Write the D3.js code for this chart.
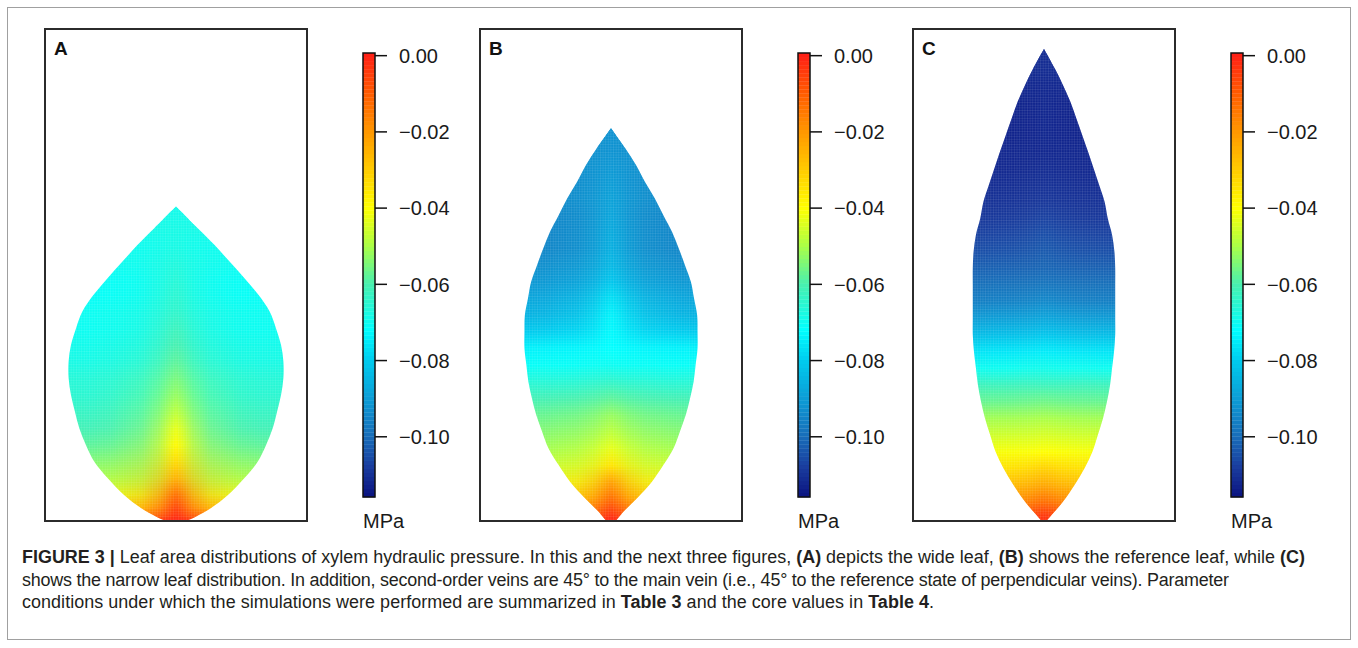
<!DOCTYPE html>
<html><head><meta charset="utf-8">
<script src="https://cdn.jsdelivr.net/npm/d3@7"></script>
<style>body{margin:0;background:#fff} svg{display:block}</style>
</head><body>
<svg id="chart" width="1358" height="648"></svg>
<script>
// ---------------- data ----------------
const panelLabels = ["A", "B", "C"];
const colorbarTicks = [0, -0.02, -0.04, -0.06, -0.08, -0.10];
const colorbarUnit = "MPa";
const pressureMin = -0.1158, pressureMax = 0.0007;
const cmapValues = [0.0007, -0.01, -0.02, -0.03, -0.04, -0.05, -0.06, -0.072, -0.08, -0.09, -0.10, -0.108, -0.1158];
const cmapColors = ["#ff1e16", "#ff5c00", "#ff9800", "#ffcc00", "#ffff00", "#aaff48", "#48f0b0", "#00ffff", "#00cbee", "#0c9cd6", "#186cb8", "#1a3c9e", "#0b1380"];

// leaf A (wide): distance from base (mm), half width (mm), pressure at midrib / margin (MPa)
const leafA_y = [0, 1.1, 3.3, 6.6, 10.9, 15.1, 19.3, 23.6, 27.8, 32.0, 36.3, 40.5, 44.7, 49.0, 53.2, 57.4, 61.7, 65.9, 70.1, 74.4, 79.9];
const leafA_halfWidth = [2.5, 5.0, 8.9, 13.2, 17.4, 20.8, 22.9, 24.6, 25.7, 26.7, 27.3, 27.3, 26.7, 25.4, 23.8, 21.0, 17.4, 13.6, 9.8, 5.5, 0];
const leafA_pMid = [0.000, -0.002, -0.006, -0.013, -0.025, -0.033, -0.039, -0.043, -0.048, -0.052, -0.055, -0.058, -0.060, -0.062, -0.064, -0.065, -0.066, -0.067, -0.068, -0.068, -0.069];
const leafA_pEdge = [-0.006, -0.018, -0.032, -0.043, -0.050, -0.054, -0.058, -0.061, -0.063, -0.065, -0.066, -0.068, -0.069, -0.070, -0.070, -0.071, -0.071, -0.070, -0.070, -0.069, -0.069];

// leaf B (reference)
const leafB_y = [0, 2.4, 5.8, 10.0, 14.2, 18.5, 22.7, 26.9, 31.2, 35.4, 39.6, 43.9, 48.1, 52.3, 56.6, 60.8, 65.0, 69.3, 73.5, 77.7, 82.0, 86.2, 90.5, 94.7, 99.8];
const leafB_halfWidth = [1.2, 3.2, 6.6, 10.4, 13.3, 15.9, 17.5, 19.0, 20.1, 21.0, 21.5, 22.0, 22.0, 21.9, 21.1, 20.3, 18.8, 17.2, 15.5, 13.3, 11.1, 8.6, 6.3, 3.6, 0];
const leafB_pMid = [0.000, -0.005, -0.013, -0.022, -0.035, -0.043, -0.048, -0.052, -0.058, -0.064, -0.070, -0.072, -0.073, -0.074, -0.077, -0.081, -0.084, -0.086, -0.087, -0.088, -0.089, -0.090, -0.091, -0.092, -0.092];
const leafB_pEdge = [-0.008, -0.022, -0.033, -0.042, -0.047, -0.051, -0.054, -0.057, -0.061, -0.066, -0.071, -0.074, -0.080, -0.085, -0.088, -0.091, -0.093, -0.095, -0.095, -0.095, -0.094, -0.094, -0.093, -0.093, -0.092];

// leaf C (narrow)
const leafC_y = [0, 1.5, 4.9, 9.2, 13.4, 17.6, 21.9, 26.1, 30.3, 34.6, 38.8, 43.0, 47.3, 51.5, 55.7, 60.0, 64.2, 68.4, 72.7, 76.9, 81.1, 85.4, 89.6, 93.8, 98.1, 102.3, 106.5, 110.8, 115.0, 119.9];
const leafC_halfWidth = [0.6, 1.9, 4.8, 7.8, 10.3, 12.3, 13.7, 15.0, 16.0, 16.8, 17.3, 17.8, 18.1, 18.1, 18.1, 18.1, 18.1, 17.9, 17.3, 16.2, 15.4, 14.0, 12.6, 11.2, 9.7, 8.2, 6.7, 4.8, 2.7, 0];
const leafC_pMid = [-0.002, -0.004, -0.013, -0.023, -0.031, -0.040, -0.045, -0.050, -0.056, -0.062, -0.069, -0.075, -0.081, -0.088, -0.094, -0.098, -0.101, -0.103, -0.105, -0.107, -0.109, -0.110, -0.111, -0.112, -0.112, -0.112, -0.112, -0.112, -0.111, -0.111];
const leafC_pEdge = [-0.006, -0.010, -0.020, -0.028, -0.035, -0.041, -0.046, -0.051, -0.057, -0.062, -0.070, -0.076, -0.083, -0.090, -0.096, -0.099, -0.102, -0.105, -0.107, -0.109, -0.110, -0.111, -0.112, -0.112, -0.113, -0.113, -0.113, -0.112, -0.111, -0.111];

const frameDomainX = [-33.3, 33.3];   // mm
const frameDomainY = [0, 125];        // mm

// ---------------- drawing ----------------
const svg = d3.select("#chart");
const defs = svg.append("defs");
const FONT = "'Liberation Sans', Arial, Helvetica, sans-serif";

svg.append("rect").attr("x", 7.5).attr("y", 7.5).attr("width", 1343).attr("height", 632)
  .attr("fill", "#fff").attr("stroke", "#a0a0a0").attr("stroke-width", 1);

const color = d3.scaleLinear().domain(cmapValues).range(cmapColors)
  .interpolate(d3.interpolateRgb).clamp(true);

const leaves = [
  {y: leafA_y, hw: leafA_halfWidth, mid: leafA_pMid, edge: leafA_pEdge},
  {y: leafB_y, hw: leafB_halfWidth, mid: leafB_pMid, edge: leafB_pEdge},
  {y: leafC_y, hw: leafC_halfWidth, mid: leafC_pMid, edge: leafC_pEdge}
];
const panelLeft = [45, 480, 913];
const panelTop = 29, panelW = 262, panelH = 492;

// grid texture pattern
const cell = 2.62;
const pat = defs.append("pattern").attr("id", "grid").attr("patternUnits", "userSpaceOnUse")
  .attr("width", cell).attr("height", cell);
pat.append("path").attr("d", `M0,0H${cell}M0,0V${cell}`).attr("stroke", "#fff")
  .attr("stroke-opacity", 0.3).attr("stroke-width", 0.5).attr("fill", "none");

const maskStops = [[0, 0], [0.12, 0.05], [0.3, 0.25], [0.4, 0.55], [0.46, 0.85], [0.5, 1],
                   [0.54, 0.85], [0.6, 0.55], [0.7, 0.25], [0.88, 0.05], [1, 0]];
const maskHalf = 85;

const cbScale = d3.scaleLinear().domain([pressureMin, pressureMax]).range([497, 53]);

leaves.forEach((leaf, i) => {
  const x0 = panelLeft[i];
  const xs = d3.scaleLinear().domain(frameDomainX).range([x0, x0 + panelW]);
  const ys = d3.scaleLinear().domain(frameDomainY).range([panelTop + panelH, panelTop]);
  const rows = leaf.y.map((y, k) => ({y, hw: leaf.hw[k], mid: leaf.mid[k], edge: leaf.edge[k]}));
  const top = d3.max(leaf.y);
  const g = svg.append("g");

  const area = d3.area().y(d => ys(d.y)).x0(d => xs(-d.hw)).x1(d => xs(d.hw))
    .curve(d3.curveCatmullRom.alpha(0.5));

  ["edge", "mid"].forEach(key => {
    const grad = defs.append("linearGradient").attr("id", `g${i}${key}`)
      .attr("gradientUnits", "userSpaceOnUse")
      .attr("x1", 0).attr("x2", 0).attr("y1", ys(0)).attr("y2", ys(top));
    grad.selectAll("stop").data(rows).join("stop")
      .attr("offset", d => d.y / top).attr("stop-color", d => color(d[key]));
  });

  const cx = xs(0);
  const mg = defs.append("linearGradient").attr("id", `mg${i}`).attr("gradientUnits", "userSpaceOnUse")
    .attr("x1", cx - maskHalf).attr("x2", cx + maskHalf).attr("y1", 0).attr("y2", 0);
  mg.selectAll("stop").data(maskStops).join("stop")
    .attr("offset", d => d[0]).attr("stop-color", "#fff").attr("stop-opacity", d => d[1]);
  const mask = defs.append("mask").attr("id", `mask${i}`).attr("maskUnits", "userSpaceOnUse")
    .attr("x", x0).attr("y", panelTop).attr("width", panelW).attr("height", panelH);
  mask.append("rect").attr("x", cx - maskHalf).attr("y", panelTop).attr("width", 2 * maskHalf)
    .attr("height", panelH).attr("fill", `url(#mg${i})`);

  g.append("path").datum(rows).attr("d", area).attr("fill", `url(#g${i}edge)`);
  g.append("path").datum(rows).attr("d", area).attr("fill", `url(#g${i}mid)`).attr("mask", `url(#mask${i})`);
  g.append("path").datum(rows).attr("d", area).attr("fill", "url(#grid)");

  g.append("rect").attr("x", x0).attr("y", panelTop).attr("width", panelW).attr("height", panelH)
    .attr("fill", "none").attr("stroke", "#2b2b2b").attr("stroke-width", 2);

  g.append("text").attr("x", x0 + 9).attr("y", panelTop + 26).text(panelLabels[i])
    .attr("font-family", FONT).attr("font-weight", "bold").attr("font-size", 19).attr("fill", "#111");

  // colour bar
  const cbX = x0 + 318, cbW = 12;
  const steps = d3.range(0, 110);
  const stepH = (cbScale.range()[0] - cbScale.range()[1]) / steps.length;
  const stepVal = d3.scaleLinear().domain([0, steps.length]).range([pressureMin, pressureMax]);
  g.append("g").selectAll("rect").data(steps).join("rect")
    .attr("x", cbX).attr("width", cbW)
    .attr("y", d => cbScale(stepVal(d + 1)))
    .attr("height", stepH + 0.3)
    .attr("fill", d => color(stepVal(d + 0.5)));
  g.append("rect").attr("x", cbX).attr("y", cbScale.range()[1]).attr("width", cbW)
    .attr("height", cbScale.range()[0] - cbScale.range()[1])
    .attr("fill", "none").attr("stroke", "#111").attr("stroke-width", 1.5);
  const tk = g.append("g").selectAll("g").data(colorbarTicks).join("g")
    .attr("transform", d => `translate(0,${cbScale(d)})`);
  tk.append("line").attr("x1", cbX + cbW).attr("x2", cbX + cbW + 12)
    .attr("stroke", "#111").attr("stroke-width", 1.5);
  tk.append("text").attr("x", cbX + 36).attr("dy", "0.36em")
    .attr("font-family", FONT).attr("font-size", 20).attr("fill", "#1a1a1a")
    .text(d => d === 0 ? "0.00" : "\u2212" + d3.format(".2f")(-d));
  g.append("text").attr("x", cbX).attr("y", 528).text(colorbarUnit)
    .attr("font-family", FONT).attr("font-size", 20).attr("fill", "#1a1a1a");
});

// caption
const captionLines = [
  [["FIGURE 3 | ", true], ["Leaf area distributions of xylem hydraulic pressure. In this and the next three figures, ", false], ["(A)", true], [" depicts the wide leaf, ", false], ["(B)", true], [" shows the reference leaf, while ", false], ["(C)", true]],
  [["shows the narrow leaf distribution. In addition, second-order veins are 45\u00B0 to the main vein (i.e., 45\u00B0 to the reference state of perpendicular veins). Parameter", false]],
  [["conditions under which the simulations were performed are summarized in ", false], ["Table 3", true], [" and the core values in ", false], ["Table 4", true], [".", false]]
];
const captionWidths = [1283, 1207, 912];
const capG = svg.append("g").attr("font-family", FONT).attr("fill", "#231f20");
const capTexts = captionLines.map((line, li) => {
  const t = capG.append("text").attr("x", 22).attr("y", 563 + li * 22.5).attr("font-size", 16);
  line.forEach(([s, b]) => t.append("tspan").attr("font-weight", b ? "bold" : "normal").text(s));
  return t;
});
const natural = capTexts[0].node().getComputedTextLength();
const capSize = 16 * captionWidths[0] / natural;
capTexts.forEach((t, li) => t.attr("font-size", capSize)
  .attr("textLength", captionWidths[li]).attr("lengthAdjust", "spacing"));
</script>
</body></html>
